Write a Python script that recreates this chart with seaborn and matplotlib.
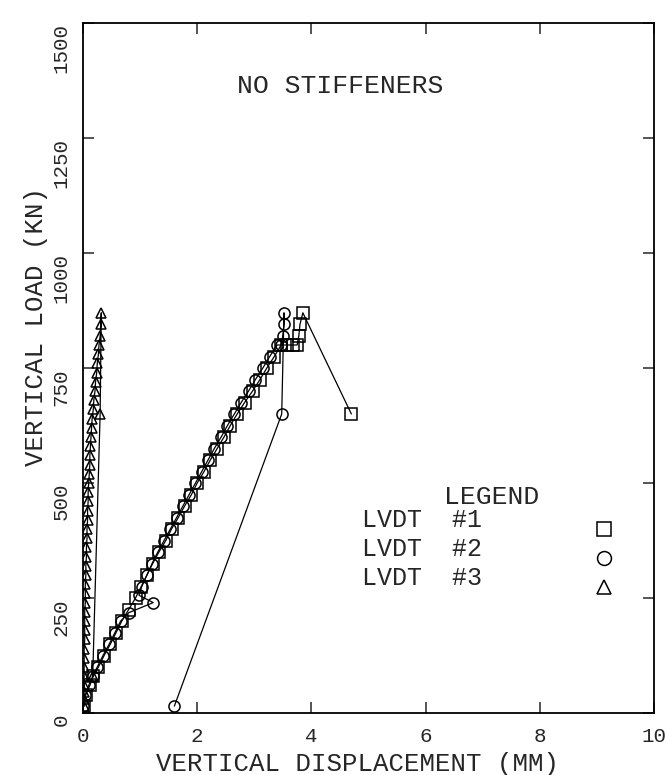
# Load-displacement curves, no stiffeners
import matplotlib
matplotlib.use('Agg')
import matplotlib.pyplot as plt
import seaborn as sns
import pandas as pd

# LVDT #1 (squares)
load_1 = [15, 40, 60, 80, 100, 125, 150, 175, 200, 225, 250, 275, 300, 325, 350,
          375, 400, 425, 450, 475, 500, 525, 550, 575, 600, 625, 650, 675, 700,
          725, 750, 775, 800, 800, 800, 800, 820, 845, 870, 650]
disp_1 = [0.02, 0.05, 0.12, 0.18, 0.27, 0.37, 0.48, 0.58, 0.68, 0.8, 0.92, 1.02,
          1.12, 1.22, 1.33, 1.45, 1.55, 1.67, 1.78, 1.9, 2.0, 2.12, 2.23, 2.35,
          2.47, 2.58, 2.7, 2.83, 2.97, 3.1, 3.22, 3.35, 3.47, 3.57, 3.67, 3.75,
          3.78, 3.8, 3.85, 4.7]

# LVDT #2 (circles)
load_2 = [15, 40, 60, 80, 100, 125, 150, 175, 200, 218, 240, 256, 275, 300, 325,
          350, 375, 400, 425, 450, 475, 500, 525, 550, 575, 600, 625, 650, 675,
          700, 725, 750, 775, 800, 800, 820, 845, 870, 650, 15]
disp_2 = [0.0, 0.04, 0.1, 0.17, 0.25, 0.35, 0.46, 0.56, 0.66, 0.8, 1.23, 0.98,
          1.03, 1.12, 1.21, 1.31, 1.42, 1.53, 1.64, 1.75, 1.86, 1.97, 2.08, 2.19,
          2.3, 2.42, 2.53, 2.65, 2.77, 2.9, 3.02, 3.15, 3.27, 3.4, 3.47, 3.5,
          3.52, 3.52, 3.48, 1.6]

# LVDT #3 (triangles)
load_3 = [15, 30, 45, 60, 80, 100, 120, 140, 160, 180, 200, 220, 240, 260, 280,
          300, 320, 340, 360, 380, 400, 420, 440, 460, 480, 500, 520, 540, 560,
          580, 600, 620, 640, 660, 680, 700, 720, 740, 760, 780, 800, 820, 845,
          870, 650, 80]
disp_3 = [0.02, 0.02, 0.02, 0.02, 0.02, 0.02, 0.02, 0.02, 0.03, 0.03, 0.03, 0.03,
          0.04, 0.04, 0.04, 0.05, 0.05, 0.06, 0.06, 0.07, 0.07, 0.08, 0.08, 0.09,
          0.09, 0.1, 0.11, 0.12, 0.12, 0.13, 0.14, 0.15, 0.16, 0.18, 0.19, 0.21,
          0.22, 0.24, 0.25, 0.27, 0.28, 0.3, 0.31, 0.32, 0.3, 0.17]

x_ticks = [0, 2, 4, 6, 8, 10]
y_ticks = [0, 250, 500, 750, 1000, 1250, 1500]
legend_labels = ['LVDT  #1', 'LVDT  #2', 'LVDT  #3']
markers = ['s', 'o', '^']

sns.set_style('ticks')
plt.rcParams['font.family'] = ['Liberation Mono', 'DejaVu Sans']

fig = plt.figure(figsize=(6.66, 7.75), dpi=100)
ax = fig.add_axes([83 / 666, 1 - 713 / 775, (654 - 83) / 666, (713 - 23) / 775])

series = [(disp_1, load_1), (disp_2, load_2), (disp_3, load_3)]
for (xs, ys), m in zip(series, markers):
    df = pd.DataFrame({'x': xs, 'y': ys})
    sns.lineplot(data=df, x='x', y='y', sort=False, estimator=None, ax=ax,
                 color='black', linewidth=0.9, marker=m, markersize=8 if m != '^' else 7,
                 markerfacecolor='none', markeredgecolor='black', markeredgewidth=1.1)

ax.set_xlim(0, 10)
ax.set_ylim(0, 1500)
ax.set_xticks(x_ticks)
ax.set_yticks(y_ticks)
ax.set_xticklabels([str(t) for t in x_ticks], fontsize=15)
ax.set_yticklabels([str(t) for t in y_ticks], fontsize=15, rotation=90, va='top')
ax.tick_params(direction='in', length=8, width=1.1, top=True, right=True)
ax.tick_params(axis='x', pad=10)
ax.tick_params(axis='y', pad=9)
for s in ax.spines.values():
    s.set_linewidth(1.3)
    s.set_color('black')

ax.set_xlabel('VERTICAL DISPLACEMENT (MM)', fontsize=18.5)
ax.set_ylabel('VERTICAL LOAD (KN)', fontsize=18.5)
ax.xaxis.set_label_coords(0.48, -0.057)
ax.yaxis.set_label_coords(-0.062, 0.56)

ax.text(4.5, 1362, 'NO STIFFENERS', fontsize=19, ha='center', va='center')

# legend block
ax.text(7.15, 470, 'LEGEND', fontsize=19, ha='center', va='center')
for i, (lab, m) in enumerate(zip(legend_labels, markers)):
    yy = 420 - i * 63
    ax.text(4.88, yy, lab, fontsize=18, ha='left', va='center')
    ax.plot([9.12], [yy - 20], marker=m, markersize=10, markerfacecolor='none',
            markeredgecolor='black', markeredgewidth=1.1, linestyle='none')

fig.savefig('out.png', dpi=100)
